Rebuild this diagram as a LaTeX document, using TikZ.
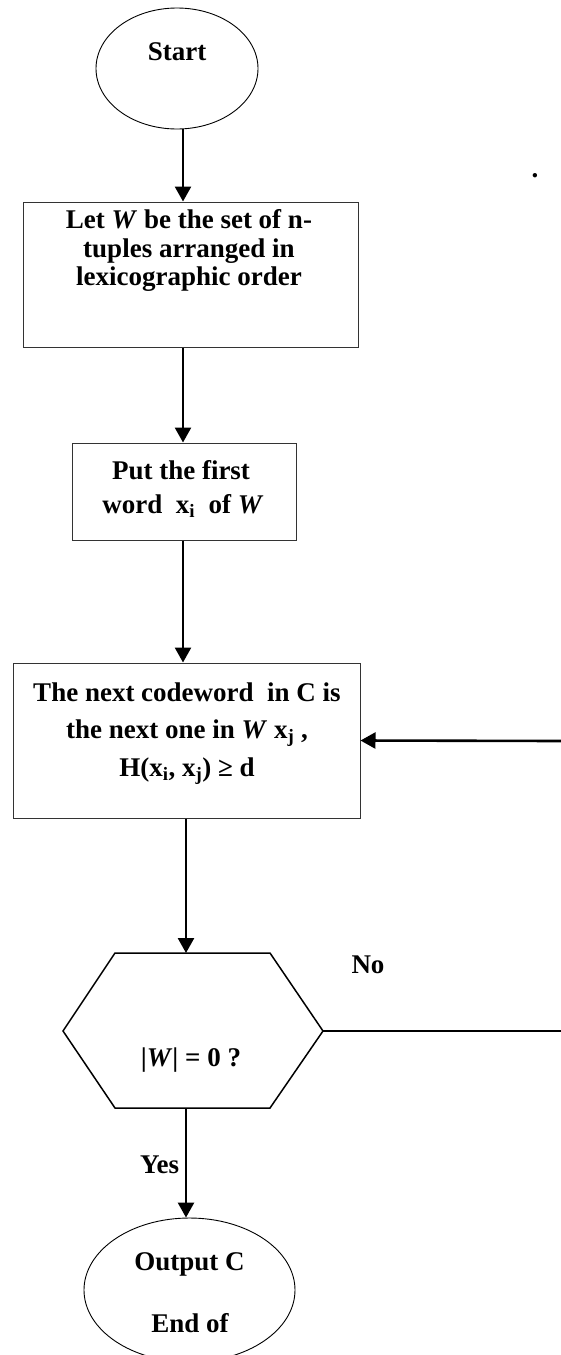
\documentclass[tikz,border=0pt]{standalone}
\usepackage{fontspec}
\setmainfont{Liberation Serif}
\usetikzlibrary{shapes.geometric,arrows.meta}
\begin{document}
\begin{tikzpicture}[x=1pt,y=-1pt,
  txt/.style={inner sep=0pt,anchor=base,font=\fontsize{27}{29}\selectfont\bfseries},
  oval/.style={ellipse,draw=black,line width=0.9pt,inner sep=0pt},
  boxnode/.style={rectangle,draw=black!80,line width=1pt,inner sep=0pt},
  arr/.style={line width=2.6pt,-{Triangle[length=15pt,width=16pt]}},
  plain/.style={line width=1.5pt},
  hexline/.style={line width=1.5pt,line join=miter}]
\useasboundingbox (0,0) rectangle (561,1355);
\clip (0,0) rectangle (561,1355);

% shapes
\node[oval,minimum width=162pt,minimum height=121pt] (start) at (177,68.5) {};
\node[boxnode,minimum width=335pt,minimum height=145pt] (b1) at (190.5,274.5) {};
\node[boxnode,minimum width=224pt,minimum height=97pt] (b2) at (184,491.5) {};
\node[boxnode,minimum width=347pt,minimum height=155pt] (b3) at (186.5,740.5) {};
\coordinate (hL) at (63,1031);
\coordinate (hTL) at (115,953);
\coordinate (hTR) at (270,953);
\coordinate (hR) at (323,1031);
\coordinate (hBR) at (270,1108);
\coordinate (hBL) at (115,1108);
\draw[hexline] (hL) -- (hTL) -- (hTR) -- (hR) -- (hBR) -- (hBL) -- cycle;
\node[oval,minimum width=211pt,minimum height=144pt] (out) at (189.5,1290) {};

% texts
\node[txt] (tstart) at (177,60) {Start};
\node[txt] (t1a) at (189,228) {Let \textit{W} be the set of n-};
\node[txt] (t1b) at (189,257) {tuples arranged in};
\node[txt] (t1c) at (189,285) {lexicographic order};
\node[txt] (t2a) at (181,479) {Put the first};
\node[txt] (t2b) at (183,513) {word\ \ x\textsubscript{i}\ \ of \textit{W}};
\node[txt] (t3a) at (187,701) {The next codeword\ \ in C is};
\node[txt] (t3b) at (187,738) {the next one in \textit{W} x\textsubscript{j} ,};
\node[txt] (t3c) at (187,776) {H(x\textsubscript{i}, x\textsubscript{j}) ≥ d};
\node[txt] (th) at (191,1066) {|\textit{W}| = 0 ?};
\node[txt] (tno) at (368,973) {No};
\node[txt] (tyes) at (159.5,1173) {Yes};
\node[txt] (to1) at (189.5,1270) {Output C};
\node[txt] (to2) at (190,1332) {End of};
\node[txt] (dot) at (535,177) {.};

% connectors
\coordinate (xa) at (183,0);
\coordinate (xb) at (186,0);
\coordinate (r1) at (561,741);
\coordinate (r2) at (561,1031);
\coordinate (hT) at (186,953);
\coordinate (hB) at (186,1108);
\draw[arr] (start.south -| xa) -- (b1.north -| xa);
\draw[arr] (b1.south -| xa) -- (b2.north -| xa);
\draw[arr] (b2.south -| xa) -- (b3.north -| xa);
\draw[arr] (b3.south -| xb) -- (hT);
\draw[arr] (r1) -- (b3.east);
\draw[plain] (hR) -- (r2);
\draw[arr] (hB) -- (out.north -| hB);
\end{tikzpicture}
\end{document}
